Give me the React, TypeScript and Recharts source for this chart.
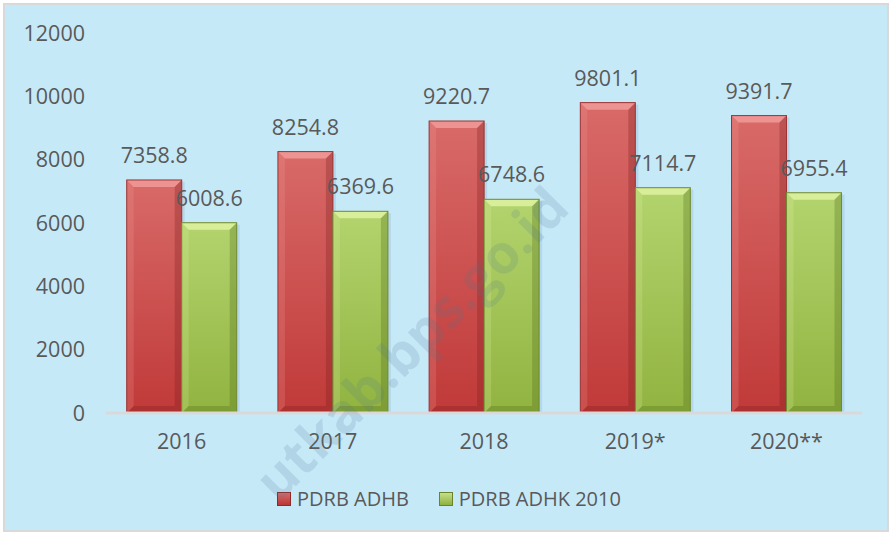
import React from 'react';
import { BarChart, Bar, XAxis, YAxis, Legend, LabelList } from 'recharts';

// PDRB values (miliar rupiah)
const years = ['2016', '2017', '2018', '2019*', '2020**'];
const adhb = [7358.8, 8254.8, 9220.7, 9801.1, 9391.7];
const adhk = [6008.6, 6369.6, 6748.6, 7114.7, 6955.4];
const yTicks = [0, 2000, 4000, 6000, 8000, 10000, 12000];

const data = years.map((year, i) => ({ year, adhb: adhb[i], adhk: adhk[i] }));

const FONT = '"Open Sans", sans-serif';
const TEXT = '#595959';
const FS = 21.5;

// bar with a bevelled edge, like the office chart style
const BevelBar = (props: any) => {
  const { x, y, width, height, grad, light, dark, edge } = props;
  if (!height || height <= 0) return null;
  const b = 7;
  return (
    <g>
      <rect x={x + 3} y={y + 2} width={width} height={height - 2} fill="#7fa9c2" opacity={0.25} />
      <rect x={x} y={y} width={width} height={height} fill={`url(#${grad})`} />
      <polygon points={`${x},${y} ${x + width},${y} ${x + width - b},${y + b} ${x + b},${y + b}`} fill={light} opacity={0.75} />
      <polygon points={`${x},${y} ${x + b},${y + b} ${x + b},${y + height - b} ${x},${y + height}`} fill={light} opacity={0.2} />
      <polygon points={`${x + width},${y} ${x + width},${y + height} ${x + width - b},${y + height - b} ${x + width - b},${y + b}`} fill={dark} opacity={0.3} />
      <polygon points={`${x},${y + height} ${x + width},${y + height} ${x + width - b},${y + height - b} ${x + b},${y + height - b}`} fill={dark} opacity={0.3} />
      <rect x={x} y={y} width={width} height={height} fill="none" stroke={edge} strokeWidth={1} />
    </g>
  );
};

const LegendBox = () => (
  <div style={{ display: 'flex', justifyContent: 'flex-start', paddingLeft: 272, fontFamily: FONT, fontSize: 20, color: TEXT }}>
    <div style={{ display: 'flex', alignItems: 'center', marginRight: 30 }}>
      <span style={{ width: 12, height: 12, background: 'linear-gradient(#d96b6b, #b83636)', border: '1px solid #8e2a2a', marginRight: 6 }} />
      PDRB ADHB
    </div>
    <div style={{ display: 'flex', alignItems: 'center' }}>
      <span style={{ width: 12, height: 12, background: 'linear-gradient(#c4e08a, #8fb03e)', border: '1px solid #6a842c', marginRight: 6 }} />
      PDRB ADHK 2010
    </div>
  </div>
);

const App: React.FC = () => {
  return (
    <div style={{ position: 'fixed', left: 0, top: 0, width: 892, height: 534, background: '#fff' }}>
      <div style={{ position: 'absolute', left: 3, top: 3, width: 882, height: 525, background: '#c6e9f8', border: '2px solid #d9d9d9', overflow: 'hidden' }}>
        <BarChart width={882} height={525} data={data} margin={{ top: 28, right: 25, bottom: 0, left: 0 }} barCategoryGap="13.7%" barGap={0}>
          <defs>
            <linearGradient id="gRed" x1="0" y1="0" x2="0" y2="1">
              <stop offset="0%" stopColor="#d86a68" />
              <stop offset="100%" stopColor="#c03a39" />
            </linearGradient>
            <linearGradient id="gGreen" x1="0" y1="0" x2="0" y2="1">
              <stop offset="0%" stopColor="#b3d46e" />
              <stop offset="100%" stopColor="#91b340" />
            </linearGradient>
          </defs>
          <XAxis
            dataKey="year"
            axisLine={{ stroke: '#d9d9d9', strokeWidth: 3 }}
            tickLine={false}
            tickSize={0}
            tickMargin={21}
            height={90}
            tick={{ fill: TEXT, fontSize: FS, fontFamily: FONT }}
          />
          <YAxis
            domain={[0, 12000]}
            ticks={yTicks}
            axisLine={false}
            tickLine={false}
            tickSize={0}
            tickMargin={21}
            width={101}
            tick={{ fill: TEXT, fontSize: FS, fontFamily: FONT }}
          />
          <Legend verticalAlign="bottom" content={<LegendBox />} wrapperStyle={{ bottom: 18 }} />
          <Bar dataKey="adhb" name="PDRB ADHB" isAnimationActive={false}
            shape={(p: any) => <BevelBar {...p} grad="gRed" light="#f4a3a1" dark="#7a1f1f" edge="#9b3332" />}>
            <LabelList dataKey="adhb" position="top" offset={17} fill={TEXT} fontSize={FS} fontFamily={FONT} />
          </Bar>
          <Bar dataKey="adhk" name="PDRB ADHK 2010" isAnimationActive={false}
            shape={(p: any) => <BevelBar {...p} grad="gGreen" light="#e6f7a8" dark="#4f6a1c" edge="#6f8a30" />}>
            <LabelList dataKey="adhk" position="top" offset={17} fill={TEXT} fontSize={FS} fontFamily={FONT} />
          </Bar>
        </BarChart>
        {/* faint site watermark */}
        <svg width={882} height={525} style={{ position: 'absolute', left: 0, top: 0, pointerEvents: 'none' }}>
          <text x={420} y={352} textAnchor="middle" fontFamily={FONT} fontWeight="bold" fontSize={54}
            fill="#4f7891" fillOpacity={0.17} transform="rotate(-45 420 352)">
            utkab.bps.go.id
          </text>
        </svg>
      </div>
    </div>
  );
};

export default App;
